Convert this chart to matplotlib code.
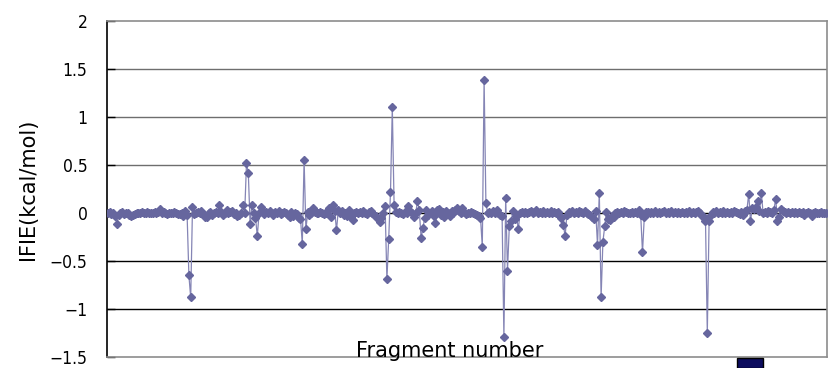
import matplotlib
matplotlib.use('Agg')
import matplotlib.pyplot as plt
from matplotlib.patches import Rectangle

# IFIE per fragment (400 fragments)
ifie = [
    0.0, 0.01, -0.01, 0.0, -0.03, -0.11, -0.02, 0.0, 0.01, -0.01, 0.0, 0.0, -0.02, -0.03, -0.02, -0.01, 0.0, 0.0, 0.0, 0.01,
    0.0, 0.0, 0.01, 0.0, 0.0, 0.0, 0.01, 0.0, 0.01, 0.04, 0.0, 0.01, 0.0, -0.01, 0.0, 0.0, 0.0, 0.01, 0.0, -0.01,
    -0.01, 0.0, -0.03, 0.02, -0.02, -0.65, -0.88, 0.06, -0.01, 0.0, 0.01, 0.0, 0.02, -0.01, -0.04, -0.04, 0.0, 0.01, -0.02, 0.0,
    0.01, 0.0, 0.08, 0.01, -0.02, 0.0, 0.03, 0.0, 0.01, 0.02, -0.01, 0.0, -0.03, -0.02, 0.0, 0.08, 0.0, 0.52, 0.42, -0.11,
    0.08, 0.0, -0.05, -0.24, 0.0, 0.06, 0.02, -0.01, 0.01, 0.0, 0.02, 0.0, -0.02, 0.01, 0.0, 0.02, -0.01, 0.0, 0.01, 0.0,
    -0.02, -0.04, 0.01, -0.03, 0.0, -0.01, -0.05, -0.06, -0.32, 0.55, -0.17, 0.01, -0.02, 0.0, 0.05, 0.01, 0.0, 0.0, 0.01, 0.0,
    -0.01, 0.0, 0.02, 0.05, -0.04, 0.08, 0.02, -0.18, 0.03, 0.0, 0.02, -0.02, 0.0, -0.03, 0.03, -0.04, -0.07, 0.0, 0.01, 0.0,
    0.01, 0.0, 0.02, 0.0, -0.01, 0.01, 0.02, 0.0, -0.02, -0.03, -0.06, -0.09, -0.05, 0.0, 0.07, -0.69, -0.27, 0.22, 1.10, 0.08,
    0.01, 0.0, 0.01, 0.0, -0.01, 0.01, 0.0, 0.07, 0.02, 0.0, -0.04, 0.0, 0.12, 0.03, -0.26, -0.16, -0.05, 0.03, -0.02, 0.0,
    0.02, -0.03, -0.10, 0.03, 0.04, -0.02, 0.01, -0.04, 0.02, 0.0, -0.03, 0.02, 0.0, 0.03, 0.05, 0.02, 0.0, 0.05, 0.01, -0.01,
    0.0, 0.0, 0.01, 0.0, -0.01, -0.02, -0.03, -0.05, -0.35, 1.39, 0.10, 0.0, 0.01, 0.0, 0.02, 0.0, 0.03, 0.0, -0.02, -0.03,
    -1.29, 0.16, -0.60, -0.14, -0.08, 0.02, -0.06, -0.03, -0.17, 0.0, 0.01, 0.0, 0.01, 0.0, 0.01, 0.02, 0.0, 0.01, 0.03, 0.0,
    0.01, 0.0, 0.02, 0.0, 0.01, 0.0, 0.02, 0.0, 0.01, 0.0, 0.01, -0.03, -0.05, -0.12, -0.24, -0.02, 0.01, 0.0, 0.02, 0.0,
    0.01, 0.0, 0.02, 0.01, 0.0, 0.02, 0.0, -0.01, -0.02, -0.04, -0.06, 0.02, -0.33, 0.21, -0.88, -0.30, -0.14, 0.01, -0.06, -0.07,
    -0.03, -0.04, 0.0, 0.01, 0.0, 0.01, 0.0, 0.02, 0.01, 0.0, 0.0, 0.01, 0.0, 0.01, 0.0, 0.03, -0.02, -0.41, -0.04, 0.01,
    0.01, 0.0, 0.01, 0.0, 0.02, 0.0, 0.01, 0.0, 0.01, 0.02, 0.0, 0.01, 0.0, 0.02, 0.0, 0.01, 0.0, 0.01, 0.0, 0.01,
    0.0, 0.01, 0.0, 0.02, 0.0, 0.01, 0.0, 0.01, 0.02, 0.0, -0.03, -0.04, -0.08, -1.25, -0.08, -0.02, 0.01, 0.0, 0.02, 0.0,
    0.01, 0.0, 0.02, 0.0, 0.01, 0.0, 0.01, 0.0, 0.02, 0.01, 0.0, -0.01, 0.01, -0.02, 0.02, 0.03, 0.20, -0.08, 0.05, 0.04,
    0.06, 0.13, 0.02, 0.21, 0.0, 0.01, 0.0, 0.02, 0.01, 0.0, 0.03, 0.15, -0.08, -0.04, 0.04, 0.02, 0.01, 0.0, 0.01, 0.0,
    0.01, 0.0, 0.01, 0.0, 0.01, 0.0, 0.01, -0.02, 0.0, 0.01, 0.0, -0.03, 0.0, 0.01, 0.0, 0.0, 0.01, 0.0, 0.0, 0.0,
]
fragments = list(range(1, len(ifie) + 1))
yticks = [-1.5, -1, -0.5, 0, 0.5, 1, 1.5, 2]
ylabels = ['\u22121.5', '\u22121', '\u22120.5', '0', '0.5', '1', '1.5', '2']

W, H = 829, 368
fig = plt.figure(figsize=(W / 100, H / 100), dpi=100)
ax = fig.add_axes([107 / W, 11 / H, 720 / W, 336 / H])

ax.plot(fragments, ifie, color='#8585b5', lw=0.9, zorder=3)
ax.plot(fragments, ifie, ls='none', marker='D', ms=4.3,
        mfc='#66669e', mec='#66669e', zorder=4)

ax.set_xlim(0.5, len(ifie) + 0.5)
ax.set_ylim(-1.5, 2)
ax.set_xticks([])
ax.set_yticks(yticks)
ax.set_yticklabels(ylabels, family='DejaVu Sans', fontstretch='condensed', fontsize=12.5)
ax.tick_params(axis='y', direction='in', length=6, width=1, color='black', pad=14)

# gridlines: grey above zero, black from zero down
for val in yticks[1:-1]:
    ax.axhline(val, color='#6e6e6e' if val > 0 else 'black', lw=1, zorder=1)

for side in ['top', 'right', 'bottom']:
    ax.spines[side].set_color('#8c8c8c')
    ax.spines[side].set_linewidth(1.2)
ax.spines['left'].set_color('black')
ax.spines['left'].set_linewidth(1.2)

ax.set_ylabel('IFIE(kcal/mol)', fontsize=15, labelpad=8)
fig.text(450 / W, 1 - 351 / H, 'Fragment number', fontsize=15,
         ha='center', va='center')

# partly visible legend key at the bottom edge
fig.patches.append(Rectangle((737 / W, 0), 26 / W, 10 / H, transform=fig.transFigure,
                             facecolor='#0c0c5e', edgecolor='black', lw=1))

fig.savefig('out.png', dpi=100)
